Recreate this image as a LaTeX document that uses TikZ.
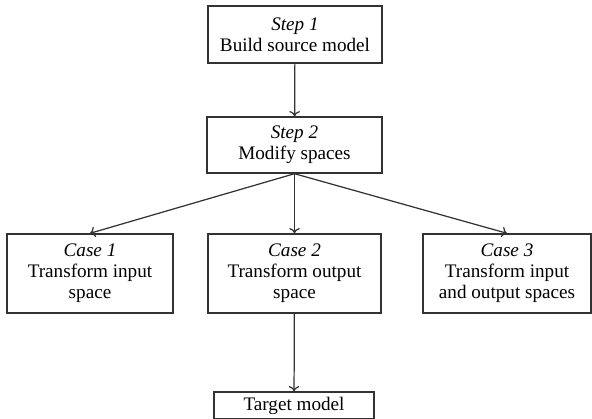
\documentclass[tikz,border=0pt]{standalone}
\usepackage{fontspec}
\setmainfont{Liberation Serif}
\usepackage{tikz}
\usetikzlibrary{arrows.meta}
\usepackage{xcolor}
\definecolor{LineGray}{RGB}{50, 50, 50}

\begin{document}
\begin{tikzpicture}[
    box/.style = {draw = LineGray, line width = 0.8pt, align = center, inner sep = 0pt,
        font = \fontsize{10.9}{12}\selectfont},
    arr/.style = {-{To[length = 3pt, width = 6pt]}, draw = LineGray, line width = 0.7pt}
]
            %画边界
            \useasboundingbox (0, 0) rectangle (11.84, 8.36);
            %步骤框
            \node[box, minimum width = 3.48cm, minimum height = 1.14cm] (step1) at (5.90, 7.67) {\textit{Step 1}\\Build source model};
            \node[box, minimum width = 3.50cm, minimum height = 1.12cm] (step2) at (5.89, 5.46) {\textit{Step 2}\\Modify spaces};
            %三种情况
            \node[box, minimum width = 3.32cm, minimum height = 1.58cm] (case1) at (1.80, 2.89) {\textit{Case 1}\\Transform input\\space};
            \node[box, minimum width = 3.46cm, minimum height = 1.58cm] (case2) at (5.89, 2.89) {\textit{Case 2}\\Transform output\\space};
            \node[box, minimum width = 3.36cm, minimum height = 1.58cm] (case3) at (10.14, 2.89) {\textit{Case 3}\\Transform input\\and output spaces};
            %目标模型
            \node[box, minimum width = 3.20cm, minimum height = 0.54cm] (target) at (5.88, 0.25) {Target model};
            %画箭头
            \draw[arr] (step1) -- (step2);
            \draw[arr] (step2.south) -- (case1.north);
            \draw[arr] (step2.south) -- (case2.north);
            \draw[arr] (step2.south) -- (case3.north);
            \draw[arr] (case2) -- (target);
        \end{tikzpicture}
\end{document}
